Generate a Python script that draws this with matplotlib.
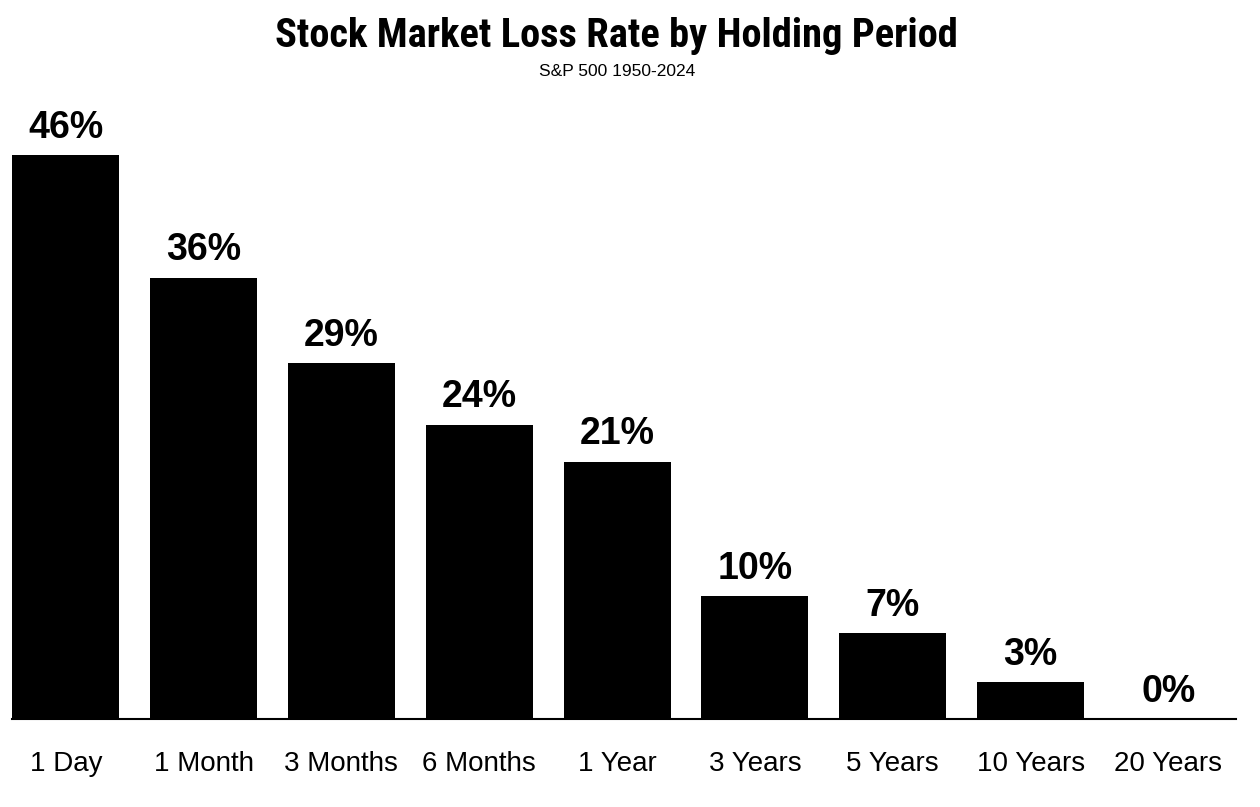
import matplotlib
matplotlib.use("Agg")
import matplotlib.pyplot as plt
from matplotlib import font_manager

categories = ["1 Day", "1 Month", "3 Months", "6 Months", "1 Year",
              "3 Years", "5 Years", "10 Years", "20 Years"]
loss_rate = [46, 36, 29, 24, 21, 10, 7, 3, 0]
labels = ["46%", "36%", "29%", "24%", "21%", "10%", "7%", "3%", "0%"]
title = "Stock Market Loss Rate by Holding Period"
subtitle = "S&P 500 1950-2024"

names = {f.name for f in font_manager.fontManager.ttflist}
def pick(cands):
    return [f for f in cands if f in names][:1] + ["DejaVu Sans"]
base = pick(["Liberation Sans", "Arimo"])
narrow = pick(["Roboto Condensed", "Archivo Narrow", "Liberation Sans"])
plt.rcParams['font.family'] = base

fig = plt.figure(figsize=(12.6, 8.07), dpi=100)
ax = fig.add_axes([12/1260, 1 - 719/807, (1236-12)/1260, (719-106)/807])

x = list(range(len(categories)))
ax.bar(x, loss_rate, width=0.776, color="black")
for xi, v, lab in zip(x, loss_rate, labels):
    ax.annotate(lab, (xi, v), xytext=(0, 12.5), textcoords="offset points",
                ha="center", va="baseline", fontsize=27, fontweight="bold")

ax.set_xlim(-0.39, 8.49)
ax.set_ylim(0, 50)
ax.set_xticks(x)
ax.set_xticklabels(categories, fontsize=20)
ax.tick_params(axis="x", length=0, pad=23)
ax.set_yticks([])
for s in ["top", "left", "right"]:
    ax.spines[s].set_visible(False)
ax.spines["bottom"].set_linewidth(1.5)

t = fig.text(616/1260, 1 - 47/807, title, ha="center", va="baseline",
             fontsize=28, fontweight="bold", family=narrow)
st = fig.text(617/1260, 1 - 76/807, subtitle, ha="center", va="baseline",
              fontsize=12.5)

# fit title width to the reference's measured span (pixels)
fig.canvas.draw()
r = fig.canvas.get_renderer()
w = t.get_window_extent(r).width
t.set_fontsize(t.get_fontsize() * 684 / w)

fig.savefig("out.png", dpi=100)
